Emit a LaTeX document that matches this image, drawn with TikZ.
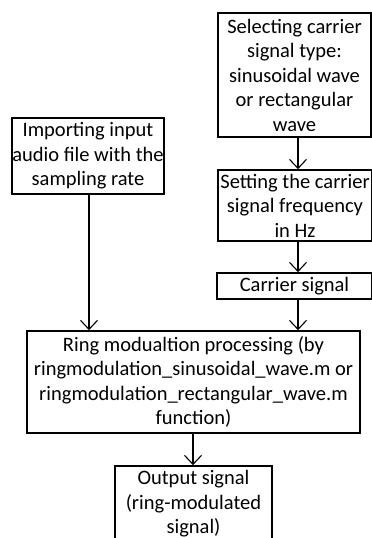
\documentclass[tikz,border=0pt]{standalone}
\usepackage{fontspec}
\setmainfont{Carlito}
\usetikzlibrary{arrows.meta}
\begin{document}
\begin{tikzpicture}[x=1pt,y=-1pt,
  box/.style={draw=black,line width=1.7pt,inner xsep=0pt,inner ysep=0pt,align=center,
    font=\fontsize{20.5}{24.5}\selectfont},
  arr/.style={line width=1.1pt,-{Straight Barb[length=9pt,width=17pt,line width=1.1pt]}}]
\clip (0,0) rectangle (372,538);
\fill[white] (0,0) rectangle (372,538);
\node[box,minimum width=153pt,minimum height=124pt] (sel) at (294.5,75)
  {Selecting carrier\\signal type:\\sinusoidal wave\\or rectangular\\wave};
\node[box,minimum width=152pt,minimum height=76pt] (imp) at (88,156)
  {Importing input\\audio file with the\\sampling rate};
\node[box,minimum width=154pt,minimum height=71pt] (set) at (295,205.5)
  {Setting the carrier\\signal frequency\\in Hz};
\node[box,minimum width=155pt,minimum height=26pt] (car) at (294.5,286)
  {Carrier signal};
\node[box,minimum width=333pt,minimum height=102pt] (ring) at (193.5,382)
  {Ring modualtion processing (by\\ringmodulation\_sinusoidal\_wave.m or\\ringmodulation\_rectangular\_wave.m\\function)};
\node[box,minimum width=157pt,minimum height=76pt] (out) at (193.5,504)
  {Output signal\\(ring-modulated\\signal)};
\coordinate (cr) at (298,0);
\coordinate (cl) at (89,0);
\coordinate (cm) at (193,0);
\draw[arr] (sel.south -| cr) -- (set.north -| cr);
\draw[arr] (set.south -| cr) -- (car.north -| cr);
\draw[arr] (car.south -| cr) -- (ring.north -| cr);
\draw[arr] (imp.south -| cl) -- (ring.north -| cl);
\draw[arr] (ring.south -| cm) -- (out.north -| cm);
\end{tikzpicture}
\end{document}
